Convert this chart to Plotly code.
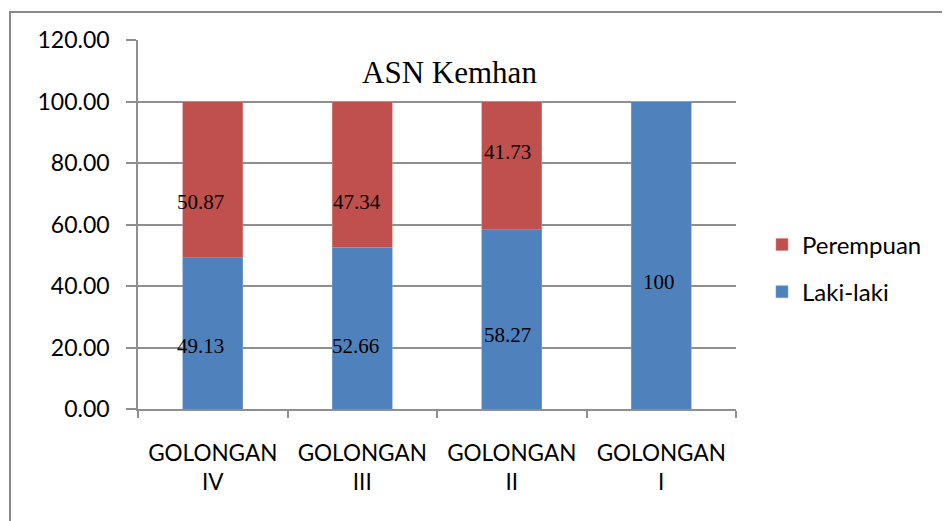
import plotly.graph_objects as go

categories = ["GOLONGAN<br>IV", "GOLONGAN<br>III", "GOLONGAN<br>II", "GOLONGAN<br>I"]
laki_laki = [49.13, 52.66, 58.27, 100]
perempuan = [50.87, 47.34, 41.73, 0]
laki_labels = ["49.13", "52.66", "58.27", "100"]
perempuan_labels = ["50.87", "47.34", "41.73", ""]
y_ticks = [0, 20, 40, 60, 80, 100, 120]

# manual label placement (data units / pixel shifts), as in the source chart
laki_label_y = [20.5, 20.5, 24.1, 41.3]
laki_label_dx = [-12, -7, -4, -2]
per_label_y = [67.3, 67.3, 83.6, None]
per_label_dx = [-12, -5, -4, 0]

BLUE = "#4F81BD"
RED = "#C0504D"
GRID = "#8f8f8f"

# plot-area geometry in figure pixels
L, R, T, B = 130, 222, 32, 120
W, H = 950, 521
PW, PH = W - L - R, H - T - B


def px_x(p):
    return (p - L) / PW


def px_y(p):
    return (H - B - p) / PH


fig = go.Figure()
fig.add_trace(go.Bar(x=categories, y=laki_laki, name="Laki-laki",
                     marker=dict(color=BLUE, line=dict(color="#7fa3d1", width=0.6)),
                     legendrank=2, legendgroup="laki"))
fig.add_trace(go.Bar(x=categories, y=perempuan, name="Perempuan",
                     marker=dict(color=RED, line=dict(color="#d98a88", width=0.6)),
                     legendrank=1, legendgroup="perempuan"))

label_font = dict(family="Liberation Serif", size=21, color="#000000")
for c, yv, dx, t in zip(categories, laki_label_y, laki_label_dx, laki_labels):
    fig.add_annotation(x=c, y=yv, text=t, showarrow=False, xshift=dx,
                       font=label_font, xanchor="center", yanchor="middle")
for c, yv, dx, t in zip(categories, per_label_y, per_label_dx, perempuan_labels):
    if yv is None or not t:
        continue
    fig.add_annotation(x=c, y=yv, text=t, showarrow=False, xshift=dx,
                       font=label_font, xanchor="center", yanchor="middle")

# outer chart border
fig.add_shape(type="rect", xref="paper", yref="paper",
              x0=px_x(2), x1=px_x(1000), y0=px_y(560), y1=px_y(4),
              line=dict(color="#8a8a8a", width=2), fillcolor="rgba(0,0,0,0)",
              layer="below")

fig.update_layout(
    width=W, height=H,
    margin=dict(l=L, r=R, t=T, b=B),
    paper_bgcolor="white", plot_bgcolor="white",
    barmode="stack", bargap=0.6,
    font=dict(family="Lato", size=23, color="#000000"),
    title=dict(text="ASN Kemhan", x=px_x(441.5), xref="paper",
               xanchor="center", y=1 - 64 / H, yanchor="middle",
               font=dict(family="Liberation Serif", size=31, color="#000000")),
    legend=dict(x=px_x(754), xanchor="left", y=0.381,
                yanchor="middle", traceorder="grouped", tracegroupgap=13,
                font=dict(family="Lato", size=24, color="#000000"),
                bgcolor="rgba(0,0,0,0)"),
    showlegend=True,
)

fig.update_xaxes(showline=True, linecolor=GRID, linewidth=1.5,
                 ticks="outside", tickson="boundaries", ticklen=7,
                 tickcolor=GRID, tickwidth=1.5, showgrid=False,
                 ticklabelstandoff=23, tickfont=dict(family="Lato", size=22.5))
fig.update_yaxes(range=[0, 120], tickvals=y_ticks, tickformat=".2f",
                 showline=True, linecolor=GRID, linewidth=1.5,
                 ticks="outside", ticklen=10, tickcolor=GRID, tickwidth=1.5,
                 showgrid=True, gridcolor=GRID, gridwidth=1.5, zeroline=False,
                 ticklabelstandoff=12, tickfont=dict(family="Lato", size=23))

fig.write_html("out.html")
